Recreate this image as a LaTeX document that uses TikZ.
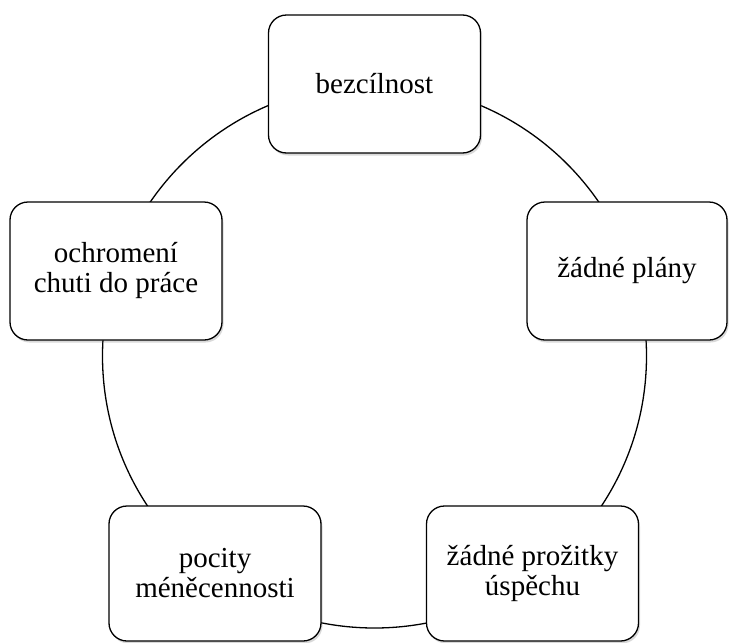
\documentclass[tikz,border=0pt]{standalone}
\usepackage{fontspec}
\setmainfont{Liberation Serif}
\usetikzlibrary{shadows}
\tikzset{
  ringline/.style={draw=black, line width=1.3pt},
  cyclebox/.style={draw=black, line width=1.3pt, fill=white, rounded corners=18pt,
    minimum width=212pt, minimum height=138pt, inner sep=0pt, align=center,
    font=\fontsize{29}{30}\selectfont,
    drop shadow={shadow xshift=1.5pt, shadow yshift=-2.5pt, opacity=0.3, fill=gray}}
}
\begin{document}
\begin{tikzpicture}[x=1pt,y=-1pt]
\useasboundingbox (0,0) rectangle (729,643);
\coordinate (c) at (374.5,356);
\draw[ringline] (c) circle (272pt);
\node[cyclebox] (top) at (374.5,84) {bezcílnost};
\node[cyclebox, minimum width=200pt] (right) at (627,271) {žádné plány};
\node[cyclebox, minimum height=135pt] (bright) at (532.5,573.5) {žádné prožitky\\úspěchu};
\node[cyclebox, minimum height=135pt] (bleft) at (215,573.5) {pocity\\méněcennosti};
\node[cyclebox] (left) at (116,271) {ochromení\\chuti do práce};
\end{tikzpicture}
\end{document}
